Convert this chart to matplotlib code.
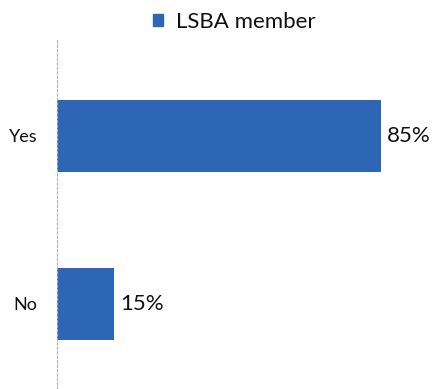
import matplotlib.pyplot as plt
from matplotlib.patches import Patch

categories = ["No", "Yes"]
values = [15, 85]
series_name = "LSBA member"
bar_color = "#2e66b6"

plt.rcParams['font.family'] = ['Lato', 'DejaVu Sans']

fig = plt.figure(figsize=(4.34, 3.89), dpi=100)
ax = fig.add_axes([57 / 434, 0.0, 362 / 434, 1 - 40 / 389])

ypos = list(range(len(categories)))
bars = ax.barh(ypos, values, height=0.43, color=bar_color, zorder=2)

ax.set_xlim(0, 95)
ax.set_ylim(-0.506, 1.571)
ax.set_yticks(ypos)
ax.set_yticklabels(categories, fontsize=13)
ax.tick_params(axis='y', length=0, pad=14, labelcolor='#111111')
ax.set_xticks([])

for s in ['top', 'right', 'bottom']:
    ax.spines[s].set_visible(False)
ax.spines['left'].set_color('#b0b0b0')
ax.spines['left'].set_linestyle((0, (2, 2)))
ax.spines['left'].set_linewidth(0.8)

for b, v in zip(bars, values):
    ax.text(b.get_width() + 1.6, b.get_y() + b.get_height() / 2, f"{v}%",
            va='center', ha='left', fontsize=16, color='#111111')

fig.legend(handles=[Patch(color=bar_color)], labels=[series_name],
           loc='upper center', bbox_to_anchor=(0.54, 1.02), frameon=False,
           fontsize=16, handlelength=0.45, handleheight=0.45, handletextpad=0.6,
           labelcolor='#111111')

fig.savefig("out.png", dpi=100)
